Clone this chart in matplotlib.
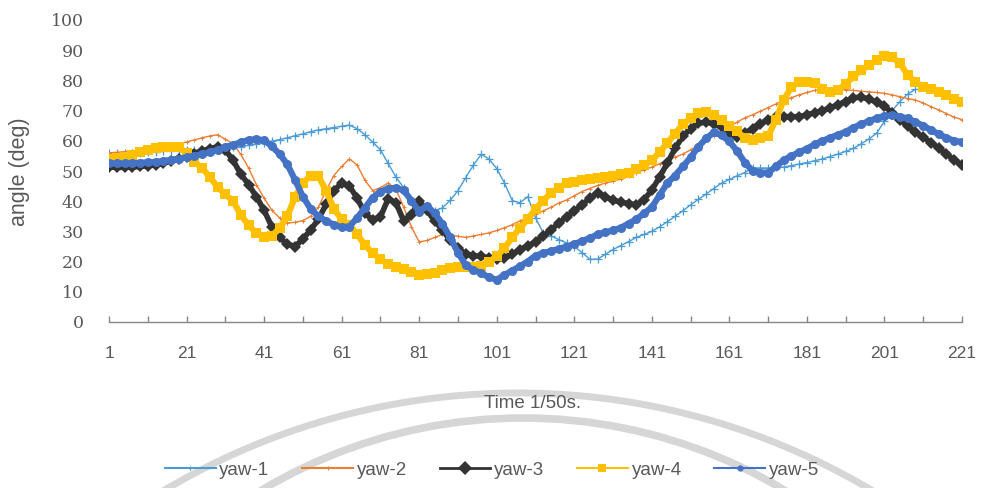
import numpy as np
import matplotlib
matplotlib.use("Agg")
import matplotlib.pyplot as plt
from matplotlib.patches import Arc
from matplotlib.lines import Line2D

# ---------------- data ----------------
time_idx = list(range(1, 222, 2))
xtick_labels = [1, 21, 41, 61, 81, 101, 121, 141, 161, 181, 201, 221]
ytick_values = [0, 10, 20, 30, 40, 50, 60, 70, 80, 90, 100]
nan = float("nan")

yaw1 = [56.0, 55.8, 55.9, 56.0, 56.1, 56.2, 56.3, 56.5, 56.6, 56.7,
        56.8, 56.9, 57.0, 57.2, 57.4, 57.6, 57.8, 58.0, 58.5, 58.9,
        59.4, 59.9, 60.4, 61.0, 61.7, 62.3, 63.0, 63.6, 64.0, 64.4,
        64.8, 65.2, 64.0, 62.0, 59.6, 57.0, 52.5, 48.0, 44.5, 40.5,
        37.0, 36.6, 36.8, 37.8, 40.3, 43.5, 47.8, 52.0, 55.5, 54.0,
        50.8, 46.0, 40.2, 39.5, 41.5, 34.5, 29.5, 28.5, 27.3, 26.2,
        25.0, 23.0, 20.8, 20.8, 22.4, 24.0, 25.3, 26.6, 28.0, 29.0,
        30.0, 31.5, 33.2, 35.0, 36.8, 38.8, 40.6, 42.4, 44.2, 46.0,
        47.2, 48.4, 49.5, 51.0, 51.0, 51.0, 51.2, 51.3, 51.8, 52.3,
        52.8, 53.4, 54.0, 54.8, 55.6, 56.5, 57.5, 59.0, 60.6, 62.5,
        66.5, 70.0, 73.0, 75.5, 77.0, nan, nan, nan, nan, nan, nan]

yaw2 = [56.0, 56.2, 56.4, 56.6, 56.9, 57.2, 57.6, 58.0, 58.5, 59.0,
        59.6, 60.3, 61.0, 61.6, 62.0, 60.5, 59.0, 55.5, 51.0, 45.5,
        41.0, 37.0, 34.5, 32.8, 33.0, 33.6, 35.0, 38.0, 43.5, 48.5,
        51.5, 54.0, 52.0, 47.0, 43.5, 44.5, 46.0, 44.0, 38.0, 31.5,
        26.5, 27.0, 28.0, 29.0, 28.8, 28.4, 28.0, 28.5, 29.0, 29.5,
        30.3, 31.2, 32.2, 33.5, 34.5, 35.6, 36.8, 38.0, 39.4, 40.4,
        41.8, 43.2, 44.2, 45.2, 46.0, 46.6, 47.4, 48.4, 49.4, 50.4,
        51.3, 52.4, 53.5, 54.6, 55.6, 57.0, 58.6, 60.2, 61.6, 63.2,
        64.8, 66.2, 67.6, 68.6, 69.8, 71.0, 72.2, 73.4, 74.3, 75.2,
        76.0, 76.7, 76.9, 77.0, 77.0, 76.9, 76.7, 76.4, 76.2, 76.0,
        75.7, 75.2, 74.6, 74.0, 73.5, 72.5, 71.3, 70.2, 69.0, 67.8, 67.0]

yaw3 = [51.3, 51.2, 51.2, 51.3, 51.5, 51.7, 52.0, 52.6, 53.3, 54.0,
        54.8, 55.7, 56.6, 57.4, 58.0, 57.0, 53.5, 49.0, 45.5, 41.5,
        37.0, 31.5, 28.0, 25.8, 25.0, 27.5, 30.5, 34.0, 39.0, 43.5,
        46.0, 45.0, 41.0, 36.0, 33.8, 34.8, 40.8, 39.5, 33.5, 35.5,
        40.0, 37.0, 33.5, 30.5, 27.0, 24.5, 22.5, 22.0, 21.7, 21.3,
        20.8, 21.2, 22.4, 24.0, 25.2, 26.5, 28.5, 30.5, 32.8, 34.8,
        36.8, 38.8, 41.0, 42.7, 41.5, 40.3, 39.7, 39.2, 38.8, 40.5,
        43.7, 48.0, 52.6, 57.5, 61.5, 64.0, 65.8, 66.2, 65.6, 64.6,
        62.5, 61.2, 62.5, 64.0, 65.6, 67.0, 68.0, 68.0, 68.0, 68.0,
        68.6, 69.3, 70.0, 70.9, 72.0, 73.0, 74.2, 74.5, 73.8, 72.8,
        71.5, 69.2, 67.0, 64.8, 62.8, 61.2, 59.4, 57.6, 55.6, 53.6, 52.0]

yaw4 = [54.0, 54.3, 54.8, 55.4, 56.2, 57.0, 57.6, 58.0, 58.0, 57.8,
        56.0, 53.0, 51.0, 48.0, 44.7, 42.3, 40.0, 35.5, 32.0, 29.5,
        28.0, 28.6, 31.0, 35.0, 41.4, 46.0, 48.5, 48.3, 43.5, 37.5,
        34.0, 32.2, 29.0, 25.5, 22.8, 20.8, 19.2, 18.3, 17.5, 16.5,
        15.6, 15.8, 16.3, 17.3, 17.9, 18.2, 18.2, 18.2, 18.6, 19.8,
        21.8, 24.5, 28.0, 31.2, 34.0, 37.5, 40.2, 42.7, 44.5, 46.0,
        46.5, 47.0, 47.4, 47.8, 48.1, 48.5, 48.9, 49.4, 50.6, 52.0,
        53.6, 56.2, 59.3, 62.4, 65.4, 67.5, 69.2, 69.4, 68.6, 66.8,
        64.8, 63.2, 60.8, 60.3, 60.8, 61.6, 67.0, 73.5, 77.8, 79.5,
        79.5, 79.2, 77.3, 76.2, 76.9, 78.8, 81.3, 83.4, 85.0, 86.8,
        88.2, 87.8, 85.6, 81.8, 79.5, 77.8, 77.0, 76.2, 75.2, 73.8, 73.0]

yaw5 = [52.6, 52.5, 52.5, 52.6, 52.7, 52.9, 53.0, 53.3, 53.7, 54.1,
        54.5, 55.0, 55.6, 56.2, 57.0, 57.9, 58.7, 59.5, 60.3, 60.5,
        60.2, 58.2, 55.6, 52.2, 47.0, 41.5, 37.5, 35.0, 33.5, 32.2,
        31.4, 31.6, 34.5, 37.8, 41.2, 43.2, 44.2, 44.4, 43.6, 40.2,
        36.5, 38.5, 36.0, 32.5, 28.0, 23.0, 18.8, 17.2, 16.2, 14.8,
        14.0, 15.6, 17.0, 18.5, 20.0, 22.0, 22.8, 23.5, 24.2, 25.0,
        25.8, 26.8, 27.8, 29.0, 29.7, 30.3, 31.2, 32.6, 34.0, 36.0,
        38.0, 42.0, 46.0, 48.5, 51.5, 54.5, 58.0, 60.8, 62.8, 61.8,
        59.8, 56.6, 52.8, 50.0, 49.5, 49.4, 51.5, 53.6, 55.0, 56.2,
        57.4, 58.8, 60.0, 61.0, 62.0, 63.0, 64.4, 65.5, 66.5, 67.5,
        68.2, 68.5, 68.0, 67.4, 66.2, 65.0, 63.6, 62.2, 61.0, 60.0, 59.6]

series_names = ["yaw-1", "yaw-2", "yaw-3", "yaw-4", "yaw-5"]

# ---------------- figure ----------------
W, H = 983, 488
fig = plt.figure(figsize=(W / 100, H / 100), dpi=100)

sans = ["Liberation Sans", "DejaVu Sans"]
gray_text = "#595959"

# faint watermark arcs in the background (pixel coordinates)
bg = fig.add_axes([0, 0, 1, 1], zorder=0)
bg.set_xlim(0, W)
bg.set_ylim(0, H)
bg.axis("off")
bg.add_patch(Arc((518, H - 1085), 2 * 692, 2 * 692, theta1=0, theta2=180,
                 color="#d6d6d6", lw=5.0))
bg.add_patch(Arc((523, H - 928), 2 * 510, 2 * 510, theta1=0, theta2=180,
                 color="#d6d6d6", lw=5.5))

ax = fig.add_axes([109 / W, 1 - 322 / H, (962 - 109) / W, (322 - 20) / H], zorder=1)
ax.patch.set_alpha(0)

colors = ["#4a9bd6", "#ed7d31", "#333333", "#ffc000", "#4472c4"]
styles = [
    dict(lw=1.0, marker="+", ms=6, mew=0.9),
    dict(lw=1.0, marker="+", ms=3, mew=0.7),
    dict(lw=4.0, marker="D", ms=6, mew=0),
    dict(lw=4.5, marker="s", ms=6.5, mew=0),
    dict(lw=4.5, marker="o", ms=6.5, mew=0),
]
for name, ys, c, st in zip(series_names, [yaw1, yaw2, yaw3, yaw4, yaw5], colors, styles):
    ax.plot(time_idx, ys, label=name, color=c, **st)

ax.set_xlim(1, 221)
ax.set_ylim(0, 100)

for s in ["left", "right", "top"]:
    ax.spines[s].set_visible(False)
ax.spines["bottom"].set_color("#868686")
ax.spines["bottom"].set_linewidth(1.0)

xt = list(range(1, 222, 10))
ax.set_xticks(xt)
ax.set_xticklabels([str(v) if v in xtick_labels else "" for v in xt],
                   family=sans, fontsize=12.5, color=gray_text)
ax.tick_params(axis="x", direction="in", length=4, width=1, color="#868686", pad=17)

ax.set_yticks(ytick_values)
ax.set_yticklabels([str(v) for v in ytick_values], family="DejaVu Serif",
                   fontsize=12.5, color=gray_text)
ax.tick_params(axis="y", length=0, pad=18)

fig.text(20 / W, 1 - 172 / H, "angle (deg)", rotation=90, ha="center", va="center",
         family=sans, fontsize=15.5, color=gray_text)
fig.text(533 / W, 1 - 403 / H, "Time 1/50s.", ha="center", va="center",
         family=sans, fontsize=13.5, color=gray_text)

leg_handles = [
    Line2D([], [], color=colors[0], lw=1.5, marker="+", ms=3, mew=0.8),
    Line2D([], [], color=colors[1], lw=1.5, marker="+", ms=3, mew=0.8),
    Line2D([], [], color=colors[2], lw=2.0, marker="D", ms=7, mew=0),
    Line2D([], [], color=colors[3], lw=1.5, marker="s", ms=5.5, mew=0),
    Line2D([], [], color=colors[4], lw=1.5, marker="o", ms=4.5, mew=0),
]
leg = fig.legend(leg_handles, series_names, loc="center",
                 bbox_to_anchor=(492 / W, 1 - 470 / H), ncol=5,
                 frameon=False, numpoints=1, handlelength=2.7, columnspacing=1.75,
                 handletextpad=0.2, prop={"family": sans, "size": 13.5})
for t in leg.get_texts():
    t.set_color(gray_text)

fig.savefig("out.png", dpi=100)
